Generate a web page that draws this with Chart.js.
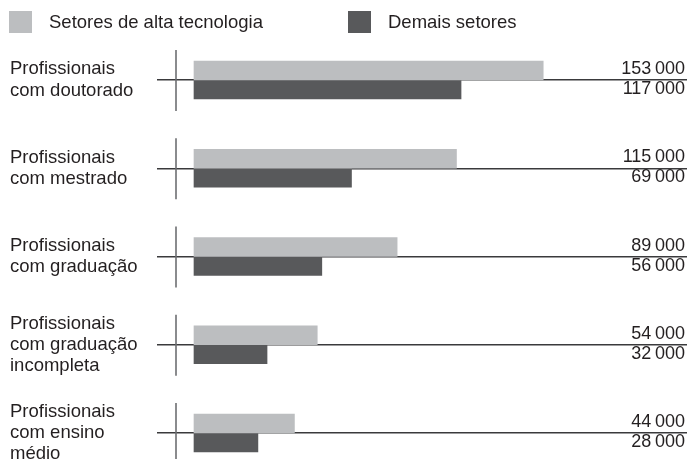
<!DOCTYPE html>
<html>
<head>
<meta charset="utf-8">
<script src="https://cdn.jsdelivr.net/npm/chart.js@4/dist/chart.umd.min.js"></script>
<style>
    html, body { margin: 0; padding: 0; overflow: hidden; background: #fff; }
    canvas { display: block; }
</style>
</head>
<body>
<canvas id="chart" width="687" height="459"></canvas>
<script>
// Data
const categories = [
    ['Profissionais', 'com doutorado'],
    ['Profissionais', 'com mestrado'],
    ['Profissionais', 'com graduação'],
    ['Profissionais', 'com graduação', 'incompleta'],
    ['Profissionais', 'com ensino', 'médio']
];
const seriesNames = ['Setores de alta tecnologia', 'Demais setores'];
const altaTecnologia = [153000, 115000, 89000, 54000, 44000];
const demaisSetores = [117000, 69000, 56000, 32000, 28000];

const FONT = '"Liberation Sans", Arial, sans-serif';
const TEXT = '#231f20';

// 153000 -> "153 000" with a thin space
function fmt(n) {
    return Math.floor(n / 1000) + '\u2009' + String(n % 1000).padStart(3, '0');
}

// Legend, crosses and value labels
const decor = {
    id: 'decor',
    afterDatasetsDraw(chart) {
        const ctx = chart.ctx;
        const area = chart.chartArea;
        const yScale = chart.scales.y;
        ctx.save();

        // short vertical line crossing each group
        ctx.strokeStyle = '#6d6e71';
        ctx.lineWidth = 1.6;
        categories.forEach((c, i) => {
            const y = yScale.getPixelForTick(i);
            ctx.beginPath();
            ctx.moveTo(area.left - 18, y - 30);
            ctx.lineTo(area.left - 18, y + 31);
            ctx.stroke();
        });

        // values on the right, above and below the line
        ctx.fillStyle = TEXT;
        ctx.font = '18px ' + FONT;
        ctx.textAlign = 'right';
        ctx.textBaseline = 'alphabetic';
        categories.forEach((c, i) => {
            const y = yScale.getPixelForTick(i);
            ctx.fillText(fmt(chart.data.datasets[0].data[i]), area.right - 2, y - 6);
            ctx.fillText(fmt(chart.data.datasets[1].data[i]), area.right - 2, y + 14);
        });

        // legend
        ctx.font = '18.5px ' + FONT;
        ctx.textAlign = 'left';
        ctx.textBaseline = 'middle';
        const legendX = [9, 348];
        chart.data.datasets.forEach((ds, i) => {
            ctx.fillStyle = ds.backgroundColor;
            ctx.fillRect(legendX[i], 11, 23, 22);
            ctx.fillStyle = TEXT;
            ctx.fillText(ds.label, legendX[i] + 40, 22.5);
        });
        ctx.restore();
    }
};

new Chart(document.getElementById('chart'), {
    type: 'bar',
    data: {
        labels: categories,
        datasets: [
            { label: seriesNames[0], data: altaTecnologia, backgroundColor: '#bcbec0' },
            { label: seriesNames[1], data: demaisSetores, backgroundColor: '#58595b' }
        ]
    },
    options: {
        indexAxis: 'y',
        responsive: false,
        animation: false,
        barThickness: 19,
        clip: false,
        layout: { padding: { left: 10, right: 0, top: 80, bottom: 26 } },
        scales: {
            x: { display: false, min: 0, max: 216000 },
            y: {
                offset: false,
                afterFit(scale) { scale.width = 184; },
                border: { display: false },
                grid: {
                    offset: false,
                    color: '#3a3a3c',
                    lineWidth: 1.4,
                    tickLength: 37,
                    drawTicks: true
                },
                ticks: {
                    crossAlign: 'far',
                    color: TEXT,
                    font: { family: FONT, size: 18.5, lineHeight: 1.15 }
                }
            }
        },
        plugins: {
            legend: { display: false },
            tooltip: { enabled: false }
        }
    },
    plugins: [decor]
});
</script>
</body>
</html>
